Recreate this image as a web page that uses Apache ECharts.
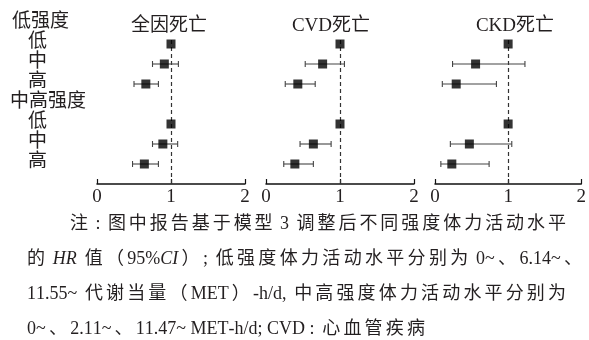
<!DOCTYPE html>
<html>
<head>
<meta charset="utf-8">
<script src="https://cdn.jsdelivr.net/npm/echarts@6/dist/echarts.min.js"></script>
<style>
  html, body { margin: 0; padding: 0; background: #fff; }
  #chart { width: 589px; height: 340px; }
</style>
</head>
<body>
<div id="chart"></div>
<script>
// row order on the y axis (0 = top)
const rowLabels = ['低强度', '低', '中', '高', '中高强度', '低', '中', '高'];
const dataRows = [1, 2, 3, 5, 6, 7];
const panelTitles = ['全因死亡', 'CVD死亡', 'CKD死亡'];
const xTicks = [0, 1, 2];

// HR and 95% CI, one array per panel, rows as in dataRows
const hrAll = [1.00, 0.91, 0.66, 1.00, 0.89, 0.64];
const loAll = [1.00, 0.75, 0.50, 1.00, 0.75, 0.48];
const hiAll = [1.00, 1.10, 0.83, 1.00, 1.09, 0.83];

const hrCvd = [1.00, 0.765, 0.43, 1.00, 0.64, 0.39];
const loCvd = [1.00, 0.53, 0.26, 1.00, 0.46, 0.24];
const hiCvd = [1.00, 1.06, 0.665, 1.00, 0.88, 0.64];

const hrCkd = [1.00, 0.555, 0.29, 1.00, 0.47, 0.23];
const loCkd = [1.00, 0.24, 0.10, 1.00, 0.21, 0.08];
const hiCkd = [1.00, 1.23, 0.84, 1.00, 1.05, 0.74];

const noteLines = [
  { x0: 70, x1: 566, y: 224, parts: [['注 : 图中报告基于模型 3 调整后不同强度体力活动水平']] },
  { x0: 27, x1: 582, y: 259, parts: [['的 '], ['HR', 'italic'], [' 值（95%'], ['CI', 'italic'], ['）; 低强度体力活动水平分别为 0~、6.14~、']] },
  { x0: 27, x1: 566, y: 294, parts: [['11.55~ 代谢当量（MET）-h/d, 中高强度体力活动水平分别为']] },
  { x0: 27, x1: 425, y: 329, parts: [['0~、2.11~、11.47~ MET-h/d; CVD : 心血管疾病']] }
];

const FONT = "'Liberation Serif', 'Noto Sans CJK SC', serif";
const TEXT = '#231f20';

const panels = [
  { hr: hrAll, lo: loAll, hi: hiAll, left: 97, center: 164 },
  { hr: hrCvd, lo: loCvd, hi: hiCvd, left: 266, center: 326 },
  { hr: hrCkd, lo: loCkd, hi: hiCkd, left: 435, center: 510 }
];

const grid = [], xAxis = [], yAxis = [], series = [], title = [];

panels.forEach((p, i) => {
  grid.push({ left: p.left, top: 24, width: 148, height: 160 });
  xAxis.push({
    gridIndex: i, type: 'value', min: 0, max: 2, interval: 1, position: 'bottom',
    axisLine: { onZero: false, lineStyle: { color: '#111', width: 1.5 } },
    axisTick: { inside: true, length: 5, lineStyle: { color: '#111', width: 1.2 } },
    axisLabel: { color: TEXT, fontSize: 19, fontFamily: FONT, margin: 4,
      formatter: v => xTicks.includes(v) ? String(v) : '' },
    splitLine: { show: false }
  });
  yAxis.push({ gridIndex: i, type: 'value', min: 0, max: 8, inverse: true, show: false });
  title.push({
    text: panelTitles[i], left: p.center, top: 12, textAlign: 'center',
    textStyle: { color: TEXT, fontSize: 19, fontWeight: 'normal', fontFamily: FONT }
  });

  const ci = dataRows.map((r, k) => [r, p.lo[k], p.hi[k]]).filter(d => d[1] !== d[2]);
  series.push({
    type: 'custom', xAxisIndex: i, yAxisIndex: i, z: 2,
    data: ci,
    encode: { x: [1, 2], y: 0 },
    renderItem: (params, api) => {
      const y = api.value(0);
      const a = api.coord([api.value(1), y]);
      const b = api.coord([api.value(2), y]);
      const st = { stroke: '#444', lineWidth: 1.1 };
      return {
        type: 'group',
        children: [
          { type: 'line', shape: { x1: a[0], y1: a[1], x2: b[0], y2: b[1] }, style: st },
          { type: 'line', shape: { x1: a[0], y1: a[1] - 3, x2: a[0], y2: a[1] + 3 }, style: st },
          { type: 'line', shape: { x1: b[0], y1: b[1] - 3, x2: b[0], y2: b[1] + 3 }, style: st }
        ]
      };
    }
  });
  series.push({
    type: 'scatter', xAxisIndex: i, yAxisIndex: i, z: 3,
    symbol: 'rect', symbolSize: 9,
    itemStyle: { color: '#000' },
    data: dataRows.map((r, k) => [p.hr[k], r]),
    markLine: {
      silent: true, symbol: 'none', z: 1,
      label: { show: false },
      lineStyle: { color: '#333', type: [4, 3], width: 1.2 },
      data: [[{ coord: [1, 0.8] }, { coord: [1, 8] }]]
    }
  });
});

// left row labels
const graphic = [];
rowLabels.forEach((t, r) => {
  const head = t.length > 1;
  graphic.push({
    type: 'text', left: head ? (r === 0 ? 12 : 10) : 28, top: 24 + 20 * r - 11,
    style: { text: t, fill: TEXT, font: `19px ${FONT}` }
  });
});

// caption: justify lines, spreading extra room only next to CJK characters
const isCjk = c => c.charCodeAt(0) > 0x2e80;
const ctx = document.createElement('canvas').getContext('2d');
noteLines.forEach(line => {
  const chars = [];
  line.parts.forEach(([s, st]) => {
    for (const c of s) {
      const font = `${st === 'italic' ? 'italic ' : ''}18px ${FONT}`;
      ctx.font = font;
      chars.push({ c, font, w: ctx.measureText(c).width });
    }
  });
  const total = chars.reduce((s, d) => s + d.w, 0);
  const flex = chars.map((d, k) => k < chars.length - 1 && (isCjk(d.c) || isCjk(chars[k + 1].c)) ? 1 : 0);
  const nFlex = flex.reduce((s, v) => s + v, 0);
  const gap = (line.x1 - line.x0 - total) / Math.max(nFlex, 1);
  let x = line.x0;
  chars.forEach((d, k) => {
    if (d.c !== ' ') {
      graphic.push({
        type: 'text', x: x, y: line.y, silent: true,
        style: { text: d.c, fill: TEXT, font: d.font, verticalAlign: 'middle' }
      });
    }
    x += d.w + gap * flex[k];
  });
});

const chart = echarts.init(document.getElementById('chart'));
chart.setOption({
  animation: false,
  backgroundColor: '#fff',
  title, grid, xAxis, yAxis, series, graphic
});
</script>
</body>
</html>
